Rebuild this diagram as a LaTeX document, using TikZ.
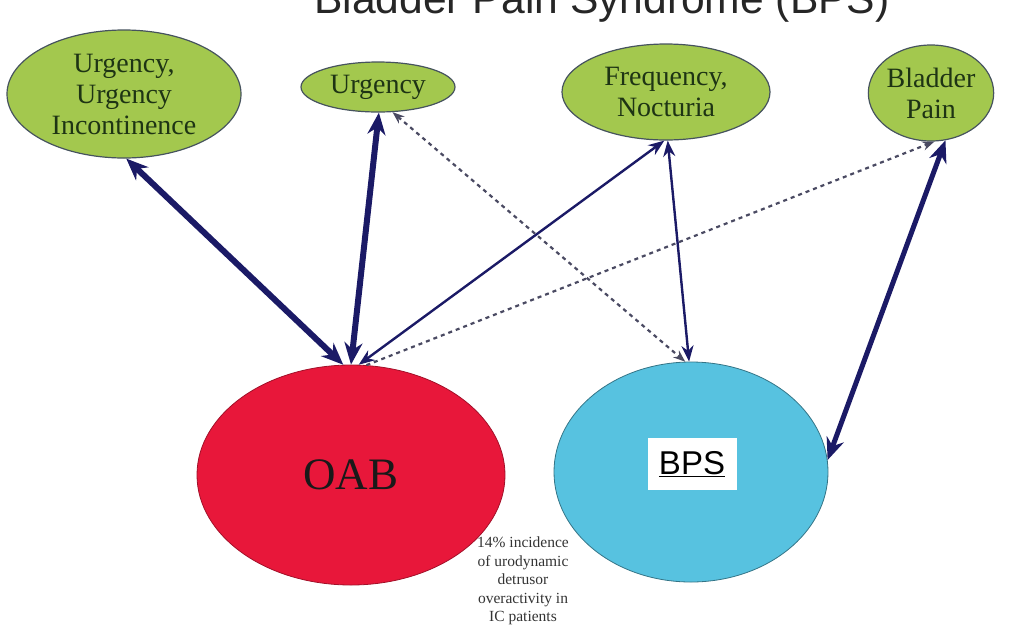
\documentclass[tikz,border=0pt]{standalone}
\usepackage{fontspec}
\setmainfont{Liberation Serif}
\setsansfont{Liberation Sans}
\usetikzlibrary{arrows.meta,shapes.geometric}
\definecolor{leaf}{HTML}{A3C84E}
\definecolor{leafline}{HTML}{46535E}
\definecolor{leaftext}{HTML}{1E3414}
\definecolor{oabred}{HTML}{E8173A}
\definecolor{bpsblue}{HTML}{57C2E0}
\definecolor{navy}{HTML}{1B1A66}
\definecolor{dashgray}{HTML}{4A4A62}
\begin{document}
\begin{tikzpicture}[x=1pt,y=-1pt,
  symptom/.style={ellipse, fill=leaf, draw=leafline, line width=1.2pt, inner sep=0pt,
    align=center, text=leaftext, font=\fontsize{28}{31}\selectfont},
  thickarrow/.style={draw=navy, line width=6pt,
    arrows={Stealth[length=22pt,width=18pt]-Stealth[length=22pt,width=18pt]}},
  thinarrow/.style={draw=navy, line width=2.4pt,
    arrows={Stealth[length=16pt,width=12pt]-Stealth[length=16pt,width=12pt]}},
  dasharrow/.style={draw=dashgray, line width=2.2pt, dash pattern=on 4pt off 4pt},
]
\useasboundingbox (0,0) rectangle (1025,633);
\clip (0,0) rectangle (1025,633);

% title (cut off at the top)
\node[anchor=base, font=\sffamily\fontsize{42.6}{46}\selectfont, text=black!85, inner sep=0pt]
  (title) at (602,13) {Bladder Pain Syndrome (BPS)};

% symptom ellipses
\node[symptom, minimum width=234pt, minimum height=128pt] (ui) at (124,94)
  {Urgency,\\Urgency\\Incontinence};
\node[symptom, minimum width=154pt, minimum height=50pt] (urg) at (378,87) {Urgency};
\node[symptom, minimum width=208pt, minimum height=96pt] (freq) at (666,92)
  {Frequency,\\Nocturia};
\node[symptom, minimum width=108pt, minimum height=96pt] (pain) at (931,93)
  {Bladder\\Pain};

% main ellipses
\node[ellipse, fill=oabred, draw=oabred!70!black, line width=0.8pt, inner sep=0pt,
  minimum width=308pt, minimum height=220pt, font=\fontsize{45}{50}\selectfont,
  text=black!90] (oab) at (351,475) {OAB};
\node[ellipse, fill=bpsblue, draw=bpsblue!60!black, line width=0.8pt, inner sep=0pt,
  minimum width=274pt, minimum height=220pt] (bps) at (691,472) {};
\node[fill=white, minimum width=89pt, minimum height=52pt, inner sep=0pt,
  font=\sffamily\fontsize{33}{36}\selectfont] (bpslabel) at (692,464) {\underline{BPS}};

% note
\node[align=center, font=\fontsize{15.5}{18.5}\selectfont, text=black!80] (note) at (523,581)
  {14\% incidence\\of urodynamic\\detrusor\\overactivity in\\IC patients};

% connectors
\draw[dasharrow, arrows={Stealth[length=12pt,width=9pt]-Stealth[length=12pt,width=9pt]}]
  (urg.-60) -- (bps.93);
\draw[dasharrow, arrows={-Stealth[length=12pt,width=9pt]}] (oab.82) -- (pain.-86);
\draw[thickarrow] (ui.-88) -- (oab.94);
\draw[thickarrow] (urg.-88) -- (oab.90);
\draw[thinarrow] (oab.86) -- (freq.-92);
\draw[thinarrow] (freq.-88) -- (bps.91);
\draw[thickarrow, line width=5pt] (pain.-73) -- (bps.5);
\end{tikzpicture}
\end{document}
